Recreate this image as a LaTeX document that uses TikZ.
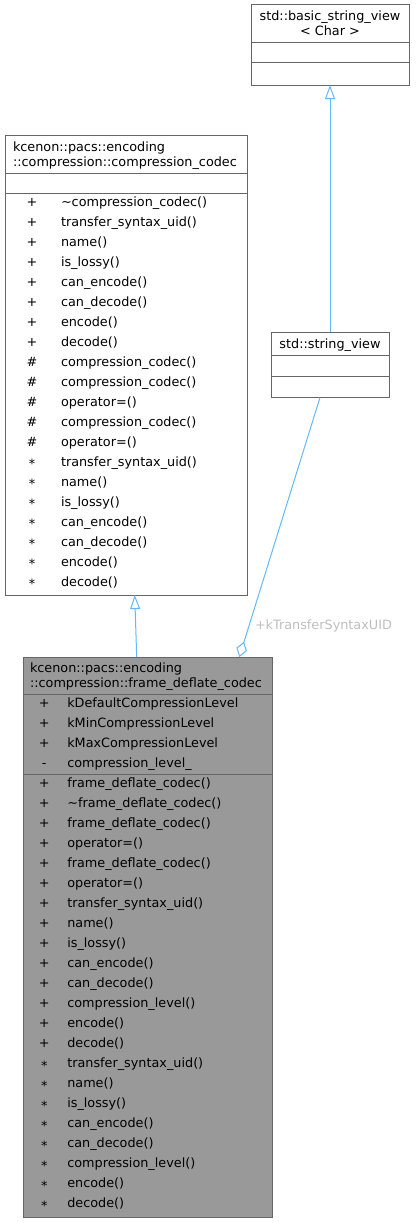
\documentclass[tikz,border=0pt]{standalone}
\usepackage{fontspec}
\setmainfont{DejaVu Sans}
\usetikzlibrary{arrows.meta}
\definecolor{boxline}{HTML}{666666}
\definecolor{edgeblue}{HTML}{63B8FF}
\definecolor{lblgrey}{HTML}{BEBEBE}
\definecolor{derivedfill}{HTML}{999999}
\newcommand{\starsym}{\raisebox{-2.8pt}{*}}
\tikzset{
  every node/.style={font=\fontsize{12.8}{15}\selectfont, inner sep=0pt, outer sep=0pt},
  classbox/.style={draw=boxline, line width=1pt, fill=white, anchor=north west},
  derivedbox/.style={draw=boxline, line width=1pt, fill=derivedfill, anchor=north west},
  sepline/.style={draw=boxline, line width=1pt},
  inh/.style={draw=edgeblue, line width=1pt, -{Triangle[open, length=14pt, width=10pt, fill=white]}},
  agg/.style={draw=edgeblue, line width=1pt, {Diamond[open, length=16pt, width=11pt, fill=white]}-},
  row/.style={anchor=base west},
  sym/.style={anchor=base},
  ttl/.style={anchor=base west},
  ctr/.style={anchor=base},
  edgelbl/.style={anchor=base west, text=lblgrey}
}
\begin{document}
\begin{tikzpicture}[x=1pt, y=-1pt]
\useasboundingbox (0,0) rectangle (415,1223);

% ---- std::basic_string_view< Char >
\node[classbox, minimum width=158pt, minimum height=80pt] (A) at (251,5) {};
\draw[sepline] (251,43) -- (409,43);
\draw[sepline] (251,62.5) -- (409,62.5);
\node[ctr] (At1) at (330,21) {std::basic\_string\_view};
\node[ctr] (At2) at (330,35.5) {< Char >};

% ---- std::string_view
\node[classbox, minimum width=118pt, minimum height=65.5pt] (C) at (271,332) {};
\draw[sepline] (271,355.5) -- (389,355.5);
\draw[sepline] (271,376) -- (389,376);
\node[ctr] (Ct1) at (330,348.5) {std::string\_view};

% ---- compression_codec
\node[classbox, minimum width=242pt, minimum height=460pt] (B) at (5,135) {};
\draw[sepline] (5,173) -- (247,173);
\draw[sepline] (5,193) -- (247,193);
\node[ttl] (Bt1) at (13,151) {kcenon::pacs::encoding};
\node[ttl] (Bt2) at (13,166) {::compression::compression\_codec};
\foreach \s/\t [count=\i from 0] in {
  +/\textasciitilde compression\_codec(),
  +/transfer\_syntax\_uid(),
  +/name(),
  +/is\_lossy(),
  +/can\_encode(),
  +/can\_decode(),
  +/encode(),
  +/decode(),
  \#/compression\_codec(),
  \#/compression\_codec(),
  \#/operator=(),
  \#/compression\_codec(),
  \#/operator=(),
  \starsym/transfer\_syntax\_uid(),
  \starsym/name(),
  \starsym/is\_lossy(),
  \starsym/can\_encode(),
  \starsym/can\_decode(),
  \starsym/encode(),
  \starsym/decode()}{
  \node[sym] (Bs\i) at (32,{206+20*\i}) {\s};
  \node[row] (Bm\i) at (61,{206+20*\i}) {\t};
}

% ---- frame_deflate_codec
\node[derivedbox, minimum width=249pt, minimum height=560pt] (D) at (23,657) {};
\draw[sepline] (23,694.5) -- (272,694.5);
\draw[sepline] (23,774.5) -- (272,774.5);
\node[ttl] (Dt1) at (30,672.5) {kcenon::pacs::encoding};
\node[ttl] (Dt2) at (30,687.5) {::compression::frame\_deflate\_codec};
\foreach \s/\t [count=\i from 0] in {
  +/kDefaultCompressionLevel,
  +/kMinCompressionLevel,
  +/kMaxCompressionLevel,
  -/compression\_level\_}{
  \node[sym] (Das\i) at (44.3,{707.5+20*\i}) {\s};
  \node[row] (Dat\i) at (67.3,{707.5+20*\i}) {\t};
}
\foreach \s/\t [count=\i from 0] in {
  +/frame\_deflate\_codec(),
  +/\textasciitilde frame\_deflate\_codec(),
  +/frame\_deflate\_codec(),
  +/operator=(),
  +/frame\_deflate\_codec(),
  +/operator=(),
  +/transfer\_syntax\_uid(),
  +/name(),
  +/is\_lossy(),
  +/can\_encode(),
  +/can\_decode(),
  +/compression\_level(),
  +/encode(),
  +/decode(),
  \starsym/transfer\_syntax\_uid(),
  \starsym/name(),
  \starsym/is\_lossy(),
  \starsym/can\_encode(),
  \starsym/can\_decode(),
  \starsym/compression\_level(),
  \starsym/encode(),
  \starsym/decode()}{
  \node[sym] (Dms\i) at (44.3,{787.5+20*\i}) {\s};
  \node[row] (Dmt\i) at (67.3,{787.5+20*\i}) {\t};
}

% ---- connectors
\draw[inh] (C.north) -- (A.south);
\draw[inh] ([xshift=113.7pt]D.north west) -- ([xshift=129.7pt]B.south west);
\draw[agg] ([xshift=216.3pt]D.north west) -- ([xshift=49pt]C.south west);
\node[edgelbl] (L) at (255,629) {+kTransferSyntaxUID};
\end{tikzpicture}
\end{document}
